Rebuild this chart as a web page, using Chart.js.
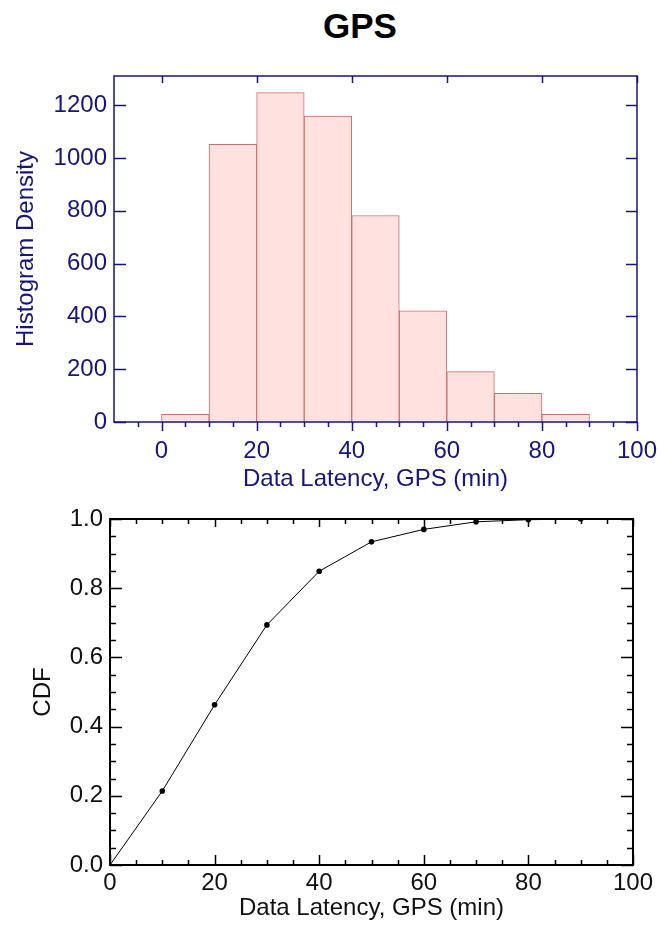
<!DOCTYPE html>
<html>
<head>
<meta charset="utf-8">
<script src="https://cdn.jsdelivr.net/npm/chart.js@4"></script>
<style>
    body { margin: 0; background: #fff; width: 660px; height: 930px; position: relative; overflow: hidden; font-family: "Liberation Sans", Arial, sans-serif; }
    #title { position: absolute; left: 0; top: 6px; width: 720px; text-align: center; font-weight: bold; font-size: 35px; line-height: normal; color: #000; }
    #histBox { position: absolute; left: 0; top: 60px; width: 660px; height: 440px; }
    #cdfBox { position: absolute; left: 0; top: 500px; width: 660px; height: 430px; }
</style>
</head>
<body>
<div id="title">GPS</div>
<div id="histBox"><canvas id="histChart" width="660" height="440"></canvas></div>
<div id="cdfBox"><canvas id="cdfChart" width="660" height="430"></canvas></div>

<script>
// ---- data ----
const binCenters = [5, 15, 25, 35, 45, 55, 65, 75, 85, 95];   // 10-min bins
const histDensity = [29, 1051, 1247, 1158, 782, 421, 191, 109, 29, 0];

const cdfLatency = [0, 10, 20, 30, 40, 50, 60, 70, 80, 90];
const cdfValues = [0, 0.214, 0.463, 0.694, 0.849, 0.934, 0.970, 0.992, 0.998, 1.0];

// tick labels
const histXTicks = [0, 20, 40, 60, 80, 100];
const histYTicks = [0, 200, 400, 600, 800, 1000, 1200];
const cdfXTicks = [0, 20, 40, 60, 80, 100];
const cdfYTicks = [0, 0.2, 0.4, 0.6, 0.8, 1.0];

// minor tick marks
const histXMinor = [-5, 5, 10, 15, 25, 30, 35, 45, 50, 55, 65, 70, 75, 85, 90, 95];
const cdfXMinor = [5, 10, 15, 25, 30, 35, 45, 50, 55, 65, 70, 75, 85, 90, 95];
const cdfYMinor = [0.05, 0.1, 0.15, 0.25, 0.3, 0.35, 0.45, 0.5, 0.55, 0.65, 0.7, 0.75, 0.85, 0.9, 0.95];

const NAVY = '#16167a';
const FONT = '"Liberation Sans", Arial, sans-serif';
const FS = 24;

// draws the box round the plot and IDL-style tick marks (len > 0 = inward)
const frameTicks = {
    id: 'frameTicks',
    afterDatasetsDraw(chart, args, o) {
        const { ctx, chartArea: a, scales } = chart;
        ctx.save();
        ctx.strokeStyle = o.color;
        ctx.lineWidth = o.tickWidth;
        ctx.beginPath();
        o.marks.forEach(m => {
            m.values.forEach(v => {
                if (m.side === 'bottom' || m.side === 'top') {
                    const px = Math.round(scales.x.getPixelForValue(v)) + 0.5;
                    const y0 = m.side === 'bottom' ? a.bottom : a.top;
                    const y1 = m.side === 'bottom' ? y0 - m.len : y0 + m.len;
                    ctx.moveTo(px, y0);
                    ctx.lineTo(px, y1);
                } else {
                    const py = Math.round(scales.y.getPixelForValue(v)) + 0.5;
                    const x0 = m.side === 'left' ? a.left : a.right;
                    const x1 = m.side === 'left' ? x0 + m.len : x0 - m.len;
                    ctx.moveTo(x0, py);
                    ctx.lineTo(x1, py);
                }
            });
        });
        ctx.stroke();
        ctx.lineWidth = o.lineWidth;
        ctx.strokeRect(a.left, a.top, a.right - a.left, a.bottom - a.top);
        ctx.restore();
    }
};

function fixedTicks(list) {
    return scale => { scale.ticks = list.map(v => ({ value: v })); };
}

// fixed box size, and no extra room for overhanging labels
function fitTo(prop, size) {
    return s => {
        s[prop] = size;
        s.paddingTop = s.paddingBottom = s.paddingLeft = s.paddingRight = 0;
    };
}

// ========== HISTOGRAM ==========
new Chart(document.getElementById('histChart'), {
    type: 'bar',
    data: {
        datasets: [{
            data: binCenters.map((c, i) => ({ x: c, y: histDensity[i] })),
            backgroundColor: '#ffe1df',
            borderColor: '#c8706e',
            borderWidth: 1,
            barPercentage: 1,
            categoryPercentage: 1
        }]
    },
    options: {
        responsive: false,
        animation: false,
        layout: { padding: { top: 16, right: 23, left: 0, bottom: 0 } },
        plugins: {
            legend: { display: false },
            tooltip: { enabled: false },
            frameTicks: {
                color: NAVY, lineWidth: 1.5, tickWidth: 1.5,
                marks: [
                    { side: 'bottom', values: histXTicks, len: -9 },
                    { side: 'bottom', values: histXMinor, len: -5 },
                    { side: 'top', values: histXTicks, len: 7 },
                    { side: 'left', values: histYTicks, len: 12 },
                    { side: 'right', values: histYTicks, len: 11 }
                ]
            }
        },
        scales: {
            x: {
                type: 'linear', min: -10, max: 100, offset: false,
                afterBuildTicks: fixedTicks(histXTicks),
                afterFit: fitTo('height', 78),
                grid: { display: false, drawTicks: false, offset: false },
                border: { display: false },
                ticks: { color: NAVY, font: { family: FONT, size: FS }, padding: 15, maxRotation: 0, callback: v => String(v) },
                title: { display: true, text: 'Data Latency, GPS (min)', color: NAVY, font: { family: FONT, size: FS }, padding: { top: 0, bottom: 6 } }
            },
            y: {
                type: 'linear', min: 0, max: 1310,
                afterBuildTicks: fixedTicks(histYTicks),
                afterFit: fitTo('width', 114),
                grid: { display: false, drawTicks: false },
                border: { display: false },
                ticks: { color: NAVY, font: { family: FONT, size: FS }, padding: 7, callback: v => String(v) },
                title: { display: true, text: 'Histogram Density', color: NAVY, font: { family: FONT, size: FS }, padding: { top: 12, bottom: 0 } }
            }
        }
    },
    plugins: [frameTicks]
});

// ========== CDF ==========
new Chart(document.getElementById('cdfChart'), {
    type: 'line',
    data: {
        datasets: [{
            data: cdfLatency.map((x, i) => ({ x: x, y: cdfValues[i] })),
            borderColor: '#000',
            borderWidth: 1,
            pointRadius: cdfLatency.map(x => x === 0 ? 0 : 2.8),
            pointBackgroundColor: '#000',
            pointBorderWidth: 0,
            tension: 0
        }]
    },
    options: {
        responsive: false,
        animation: false,
        layout: { padding: { top: 19, right: 27, left: 0, bottom: 0 } },
        plugins: {
            legend: { display: false },
            tooltip: { enabled: false },
            frameTicks: {
                color: '#000', lineWidth: 2, tickWidth: 1.5,
                marks: [
                    { side: 'bottom', values: cdfXTicks, len: 10 },
                    { side: 'bottom', values: cdfXMinor, len: 5 },
                    { side: 'top', values: cdfXTicks, len: 8 },
                    { side: 'top', values: cdfXMinor, len: 5 },
                    { side: 'left', values: cdfYTicks, len: 12 },
                    { side: 'left', values: cdfYMinor, len: 6 },
                    { side: 'right', values: cdfYTicks, len: 12 },
                    { side: 'right', values: cdfYMinor, len: 6 }
                ]
            }
        },
        scales: {
            x: {
                type: 'linear', min: 0, max: 100,
                afterBuildTicks: fixedTicks(cdfXTicks),
                afterFit: fitTo('height', 65),
                grid: { display: false, drawTicks: false },
                border: { display: false },
                ticks: { color: '#111', font: { family: FONT, size: FS }, padding: 4, maxRotation: 0 },
                title: { display: true, text: 'Data Latency, GPS (min)', color: '#111', font: { family: FONT, size: FS }, padding: { top: 0, bottom: 7 } }
            },
            y: {
                type: 'linear', min: 0, max: 1,
                afterBuildTicks: fixedTicks(cdfYTicks),
                afterFit: fitTo('width', 110),
                grid: { display: false, drawTicks: false },
                border: { display: false },
                ticks: { color: '#111', font: { family: FONT, size: FS }, padding: 7, callback: v => v.toFixed(1) },
                title: { display: true, text: 'CDF', color: '#111', font: { family: FONT, size: FS }, padding: { top: 29, bottom: 0 } }
            }
        }
    },
    plugins: [frameTicks]
});
</script>
</body>
</html>
